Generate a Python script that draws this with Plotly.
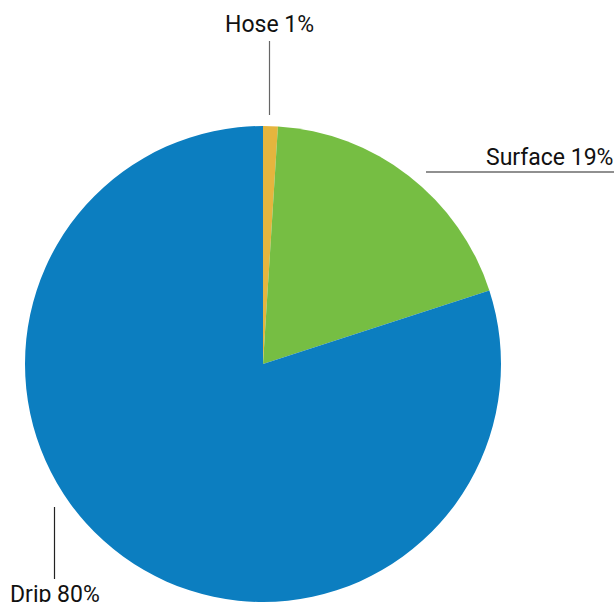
import plotly.graph_objects as go

labels = ["Hose", "Surface", "Drip"]
values = [1, 19, 80]
colors = ["#e5b53e", "#76be43", "#0c7ec0"]

W, H = 616, 602

def px(x):
    return x / W

def py(y):
    return 1 - y / H

fig = go.Figure(go.Pie(
    labels=labels,
    values=values,
    sort=False,
    direction="clockwise",
    rotation=0,
    marker=dict(colors=colors, line=dict(width=0)),
    textinfo="none",
    hoverinfo="label+percent",
    showlegend=False,
    domain=dict(x=[px(24), px(502)], y=[0, py(126)]),
))

font = dict(family="Roboto", size=23, color="#111111")
annots = [
    dict(text=f"{labels[0]} {values[0]}%", x=px(269), y=py(25), xanchor="center", yanchor="middle"),
    dict(text=f"{labels[1]} {values[1]}%", x=px(615), y=py(157), xanchor="right", yanchor="middle"),
    dict(text=f"{labels[2]} {values[2]}%", x=px(55), y=py(594), xanchor="center", yanchor="middle"),
]
for a in annots:
    fig.add_annotation(xref="paper", yref="paper", showarrow=False, font=font, **a)

line_specs = [
    (269.5, 41, 269.5, 115, "#666666"),
    (426, 172, 614, 172, "#222222"),
    (54.5, 507, 54.5, 579, "#222222"),
]
for x0, y0, x1, y1, c in line_specs:
    fig.add_shape(type="line", xref="paper", yref="paper",
                  x0=px(x0), y0=py(y0), x1=px(x1), y1=py(y1),
                  line=dict(color=c, width=1.2))

fig.update_layout(
    width=W, height=H,
    margin=dict(l=0, r=0, t=0, b=0),
    paper_bgcolor="white",
    plot_bgcolor="white",
)

fig.write_html("out.html")
